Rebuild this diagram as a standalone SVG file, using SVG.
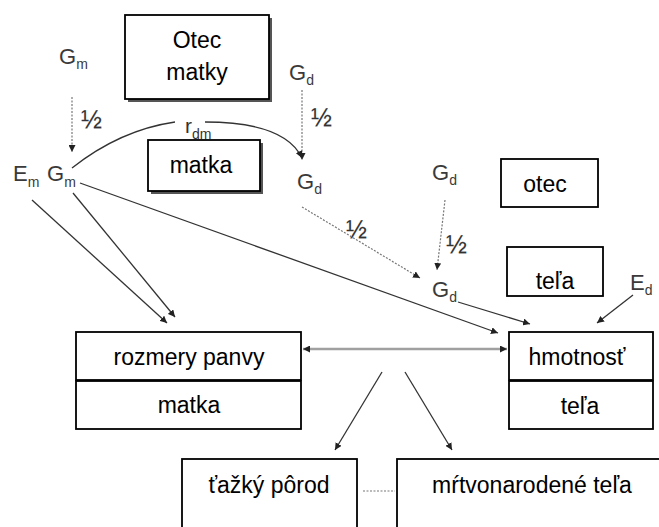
<svg xmlns="http://www.w3.org/2000/svg" width="659" height="527" viewBox="0 0 659 527">
<defs>
<style>
.box{fill:#fff;stroke:#000;stroke-width:1.8}
.shadow{fill:#555;stroke:none}
.t{font-family:"Liberation Sans",Arial,sans-serif;font-size:23px;fill:#000;text-anchor:middle}
.g{font-family:"Liberation Sans",Arial,sans-serif;font-size:22px;fill:#3a3a3a}
.s{font-size:14px}
.h{font-family:"Liberation Sans",Arial,sans-serif;font-size:21px;fill:#333}
.f{font-family:"Liberation Sans",Arial,sans-serif;font-size:25px;fill:#333;stroke:#333;stroke-width:0.15}
.a{fill:none;stroke:#333;stroke-width:1.3}
.d{fill:none;stroke:#777;stroke-width:1.2;stroke-dasharray:2 1.5}
.gr{fill:none;stroke:#a0a0a0;stroke-width:2.6}
</style>
<marker id="ar" viewBox="0 0 10 10" refX="10" refY="5" markerWidth="7" markerHeight="7" markerUnits="userSpaceOnUse" orient="auto"><path d="M0,0L10,5L0,10z" fill="#222"/></marker>
<marker id="ars" viewBox="0 0 10 10" refX="0" refY="5" markerWidth="7" markerHeight="7" markerUnits="userSpaceOnUse" orient="auto"><path d="M10,0L0,5L10,10z" fill="#222"/></marker>
</defs>
<g id="otec-matky"><rect class="shadow" x="128" y="18" width="144" height="84"/><rect class="box" x="125" y="15" width="144" height="84"/><text class="t" x="197" y="48">Otec</text><text class="t" x="197" y="80">matky</text></g>
<g id="matka-top"><rect class="shadow" x="151" y="143" width="112" height="51"/><rect class="box" x="148" y="140" width="112" height="51"/><text class="t" x="201" y="173">matka</text></g>
<g id="otec"><rect class="box" x="501" y="159" width="97" height="48"/><text class="t" x="545" y="192">otec</text></g>
<g id="tela-top"><rect class="box" x="507" y="247" width="96" height="49"/><text class="t" x="555" y="289">teľa</text></g>
<g id="rozmery"><rect class="box" x="76" y="332" width="225" height="48"/><rect class="box" x="76" y="381" width="225" height="48"/><text class="t" x="189" y="365">rozmery panvy</text><text class="t" x="189" y="413">matka</text></g>
<g id="hmotnost"><rect class="box" x="509" y="332" width="144" height="48"/><rect class="box" x="509" y="381" width="144" height="48"/><text class="t" x="577" y="365">hmotnosť</text><text class="t" x="580" y="414">teľa</text></g>
<g id="tazky"><rect class="box" x="182" y="459" width="175" height="80"/><text class="t" x="269" y="493">ťažký pôrod</text></g>
<g id="mrtvo"><rect class="box" x="397" y="459" width="280" height="80"/><text class="t" x="532" y="493">mŕtvonarodené teľa</text></g>
<g id="labels">
<text class="g" x="59" y="64">G<tspan class="s" dy="5">m</tspan></text>
<text class="g" x="289" y="80">G<tspan class="s" dy="5">d</tspan></text>
<text class="g" x="13" y="181">E<tspan class="s" dy="6">m</tspan></text>
<text class="g" x="47" y="181">G<tspan class="s" dy="6">m</tspan></text>
<text class="g" x="297" y="189">G<tspan class="s" dy="5">d</tspan></text>
<text class="g" x="432" y="180">G<tspan class="s" dy="5">d</tspan></text>
<text class="g" x="432" y="297">G<tspan class="s" dy="5">d</tspan></text>
<text class="g" x="630" y="290">E<tspan class="s" dy="5">d</tspan></text>
<text class="h" x="185" y="133">r<tspan class="s" dy="6">dm</tspan></text>
<text class="f" x="81" y="128">½</text>
<text class="f" x="311" y="126">½</text>
<text class="f" x="346" y="238">½</text>
<text class="f" x="446" y="253">½</text>
</g>
<g id="connectors">
<path class="d" d="M72,97L72,152" marker-end="url(#ar)"/>
<path class="d" d="M302,90L302,160" marker-end="url(#ar)"/>
<path class="d" d="M302,207L420,278" marker-end="url(#ar)"/>
<path class="d" d="M445,200L437,270" marker-end="url(#ar)"/>
<path class="a" d="M72,168Q120,130 175,122"/>
<path class="a" d="M205,122Q285,122 302,158" marker-end="url(#ar)"/>
<path class="a" d="M32,200L167,323" marker-end="url(#ar)"/>
<path class="a" d="M73,193L175,317" marker-end="url(#ar)"/>
<path class="a" d="M80,183L498,333" marker-end="url(#ar)"/>
<path class="a" d="M458,302L530,324" marker-end="url(#ar)"/>
<path class="a" d="M633,295L597,323" marker-end="url(#ar)"/>
<path class="gr" d="M303,349L507,349" marker-start="url(#ars)" marker-end="url(#ar)"/>
<path class="a" d="M382,372L335,450" marker-end="url(#ar)"/>
<path class="a" d="M405,372L452,450" marker-end="url(#ar)"/>
<path class="d" d="M363,491L395,491"/>
</g>
</svg>
